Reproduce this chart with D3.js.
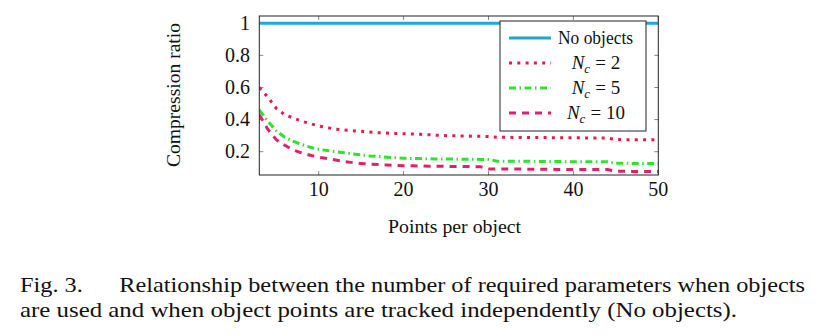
<!DOCTYPE html>
<html>
<head>
<meta charset="utf-8">
<script src="https://cdn.jsdelivr.net/npm/d3@7"></script>
<style>
  html, body { margin: 0; padding: 0; background: #fff; }
  svg { display: block; }
  text { font-family: "Liberation Serif", "DejaVu Serif", serif; fill: #111; }
</style>
</head>
<body>
<svg id="chart" width="831" height="335"></svg>
<script>
// ---- data ----
const pointsPerObject = d3.range(3, 51); // 3 .. 50
const noObjects = pointsPerObject.map(() => 1);
const nc2 = [0.60,0.54,0.47,0.43,0.41,0.39,0.375,0.36,0.35,0.34,0.335,0.33,0.327,0.322,0.318,0.316,0.314,0.312,0.31,0.308,0.306,0.302,0.300,0.299,0.298,0.297,0.296,0.295,0.290,0.290,0.289,0.289,0.288,0.288,0.288,0.287,0.287,0.287,0.286,0.286,0.286,0.285,0.276,0.275,0.275,0.275,0.274,0.274];
const nc5 = [0.46,0.39,0.33,0.29,0.265,0.245,0.228,0.215,0.207,0.20,0.193,0.186,0.18,0.174,0.17,0.166,0.163,0.16,0.158,0.157,0.156,0.155,0.155,0.154,0.153,0.153,0.152,0.151,0.141,0.141,0.140,0.140,0.140,0.139,0.139,0.139,0.138,0.138,0.138,0.138,0.137,0.137,0.128,0.128,0.127,0.127,0.127,0.126];
const nc10 = [0.43,0.34,0.275,0.24,0.21,0.193,0.178,0.166,0.157,0.148,0.139,0.132,0.127,0.123,0.12,0.117,0.115,0.113,0.112,0.111,0.11,0.11,0.109,0.108,0.108,0.107,0.107,0.093,0.093,0.092,0.092,0.092,0.091,0.091,0.091,0.09,0.09,0.09,0.09,0.089,0.089,0.089,0.078,0.078,0.077,0.077,0.077,0.077];
const xTicks = [10, 20, 30, 40, 50];
const yTicks = [0.2, 0.4, 0.6, 0.8, 1];
const seriesNames = ["No objects", "2", "5", "10"];

// ---- layout ----
const svg = d3.select("#chart");
const L = 259.3, R = 658.3, T = 16, B = 175;
const x = d3.scaleLinear().domain([3, 50]).range([L, R]);
const y = d3.scaleLinear().domain([0.055, 1.045]).range([B, T]);

const series = [
  { name: seriesNames[0], vals: noObjects, color: "#1aa9e2", width: 3, dash: null },
  { name: seriesNames[1], vals: nc2, color: "#e8184a", width: 3, dash: "3,5.3" },
  { name: seriesNames[2], vals: nc5, color: "#2ee22e", width: 3, dash: "7,3.5,1.5,3.5" },
  { name: seriesNames[3], vals: nc10, color: "#e0206c", width: 3, dash: "7,6" }
];

// clip
svg.append("clipPath").attr("id", "clip").append("rect")
  .attr("x", L).attr("y", T).attr("width", R - L).attr("height", B - T);

// ticks (inside, all four sides)
const tickG = svg.append("g").attr("stroke", "#777").attr("stroke-width", 0.9);
xTicks.forEach(t => {
  tickG.append("line").attr("x1", x(t)).attr("x2", x(t)).attr("y1", B).attr("y2", B - 4);
  tickG.append("line").attr("x1", x(t)).attr("x2", x(t)).attr("y1", T).attr("y2", T + 4);
});
yTicks.forEach(t => {
  tickG.append("line").attr("x1", L).attr("x2", L + 4).attr("y1", y(t)).attr("y2", y(t));
  tickG.append("line").attr("x1", R).attr("x2", R - 4).attr("y1", y(t)).attr("y2", y(t));
});

// lines
const line = d3.line().x((d, i) => x(pointsPerObject[i])).y(d => y(d));
const lg = svg.append("g").attr("clip-path", "url(#clip)");
series.slice().reverse().forEach(s => {
  lg.append("path").datum(s.vals)
    .attr("d", line)
    .attr("fill", "none")
    .attr("stroke", s.color)
    .attr("stroke-width", s.width)
    .attr("stroke-dasharray", s.dash)
    .attr("stroke-linejoin", "round");
});

// frame
svg.append("rect").attr("x", L).attr("y", T).attr("width", R - L).attr("height", B - T)
  .attr("fill", "none").attr("stroke", "#222").attr("stroke-width", 1);

// tick labels
xTicks.forEach(t => {
  svg.append("text").attr("x", x(t)).attr("y", 196).attr("text-anchor", "middle")
    .attr("font-size", 20).text(t);
});
yTicks.forEach(t => {
  svg.append("text").attr("x", 250).attr("y", y(t) + 6.5).attr("text-anchor", "end")
    .attr("font-size", 20).text(t === 1 ? "1" : d3.format(".1f")(t));
});

// axis titles
svg.append("text").attr("x", 388).attr("y", 233)
  .attr("font-size", 19).attr("textLength", 133).attr("lengthAdjust", "spacingAndGlyphs")
  .text("Points per object");
svg.append("text").attr("transform", "translate(180,167) rotate(-90)")
  .attr("font-size", 19).attr("textLength", 144).attr("lengthAdjust", "spacingAndGlyphs")
  .text("Compression ratio");

// legend
const lgx = 500, lgy = 21, lgw = 146, lgh = 110;
svg.append("rect").attr("x", lgx).attr("y", lgy).attr("width", lgw).attr("height", lgh)
  .attr("fill", "#fff").attr("stroke", "#222").attr("stroke-width", 1);
const rowsY = [38, 63, 88, 113];
series.forEach((s, i) => {
  svg.append("line").attr("x1", 509).attr("x2", 551).attr("y1", rowsY[i]).attr("y2", rowsY[i])
    .attr("stroke", i === 0 ? "#1fa6c8" : s.color).attr("stroke-width", 3)
    .attr("stroke-dasharray", s.dash);
  if (i === 0) {
    svg.append("text").attr("x", 558).attr("y", rowsY[i] + 5.5)
      .attr("font-size", 18).attr("textLength", 75).attr("lengthAdjust", "spacingAndGlyphs")
      .text(s.name);
  } else {
    const t = svg.append("text").attr("x", 596).attr("y", rowsY[i] + 6)
      .attr("text-anchor", "middle").attr("font-size", 19);
    t.append("tspan").attr("font-style", "italic").text("N");
    t.append("tspan").attr("font-style", "italic").attr("font-size", 13).attr("dy", 4).text("c");
    t.append("tspan").attr("dy", -4).attr("dx", 5).text("=");
    t.append("tspan").attr("dx", 5).text(s.name);
  }
});

// caption
svg.append("text").attr("x", 20).attr("y", 292).attr("font-size", 22)
  .attr("textLength", 785).attr("lengthAdjust", "spacingAndGlyphs")
  .attr("xml:space", "preserve")
  .text("Fig. 3.      Relationship between the number of required parameters when objects");
svg.append("text").attr("x", 20).attr("y", 317).attr("font-size", 22)
  .attr("textLength", 717).attr("lengthAdjust", "spacingAndGlyphs")
  .text("are used and when object points are tracked independently (No objects).");
</script>
</body>
</html>
